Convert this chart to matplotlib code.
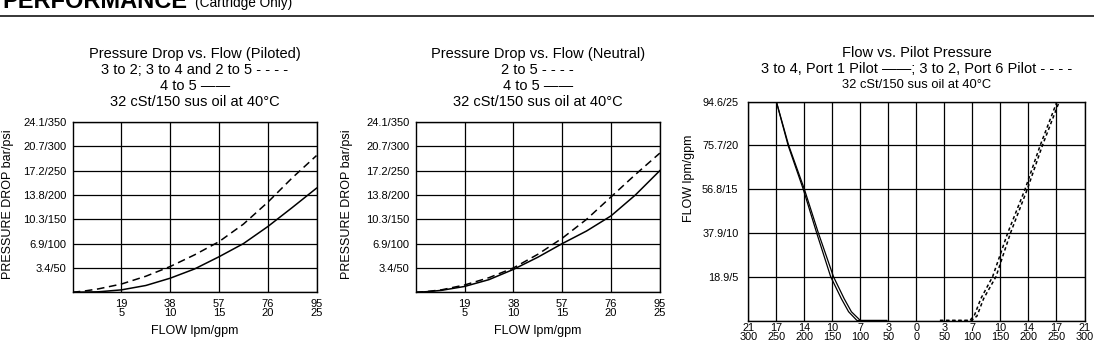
import matplotlib.pyplot as plt
from matplotlib.lines import Line2D

plt.rcParams['font.family'] = ['Liberation Sans', 'DejaVu Sans']

# Pressure drop vs. flow (flow in lpm, pressure drop in psi)
flow_lpm = [0, 5, 10, 19, 28.5, 38, 47.5, 57, 66.5, 76, 85.5, 95]
piloted_3to2_psi = [0, 3, 7, 17, 33, 53, 77, 104, 140, 185, 235, 281]
piloted_4to5_psi = [0, 0.5, 1, 5, 14, 29, 48, 73, 100, 135, 174, 214]
neutral_2to5_psi = [0, 2, 5, 15, 30, 50, 78, 111, 150, 196, 242, 286]
neutral_4to5_psi = [0, 1.5, 4, 12, 26, 47, 72, 100, 126, 157, 200, 250]

dp_ticks = [0, 50, 100, 150, 200, 250, 300, 350]
dp_labels = ['', '3.4/50', '6.9/100', '10.3/150', '13.8/200', '17.2/250', '20.7/300', '24.1/350']
flow_ticks = [19, 38, 57, 76, 95]
flow_labels = ['19\n5', '38\n10', '57\n15', '76\n20', '95\n25']

# Flow vs. pilot pressure (pilot in psi, port 1 drawn to the left, flow in gpm)
port1_flow_gpm = [25, 20, 15, 10, 5, 2.5, 1, 0, 0]
port1_pilot_a = [-250, -229, -202, -178, -153, -134, -121, -106, -53]
port1_pilot_b = [-250, -228, -200, -175, -148, -129, -116, -100, -53]
port6_flow_gpm = [0, 0, 0.5, 2.5, 5, 10, 15, 20, 25]
port6_pilot_a = [42, 95, 103, 115, 136, 163, 194, 221, 251]
port6_pilot_b = [42, 98, 108, 120, 142, 168, 198, 225, 255]

pilot_ticks = [-300, -250, -200, -150, -100, -50, 0, 50, 100, 150, 200, 250, 300]
pilot_labels = ['21\n300', '17\n250', '14\n200', '10\n150', '7\n100', '3\n50', '0\n0',
                '3\n50', '7\n100', '10\n150', '14\n200', '17\n250', '21\n300']
gpm_ticks = [0, 5, 10, 15, 20, 25]
gpm_labels = ['', '18.9/5', '37.9/10', '56.8/15', '75.7/20', '94.6/25']

W, H = 1094, 344
fig = plt.figure(figsize=(W / 100, H / 100), dpi=100)


def axes_px(left, top, right, bottom):
    return fig.add_axes([left / W, 1 - bottom / H, (right - left) / W, (bottom - top) / H])


def text_px(x, y, s, **kw):
    kw.setdefault('ha', 'center')
    kw.setdefault('va', 'center')
    return fig.text(x / W, 1 - y / H, s, **kw)


def style(ax, fs=8):
    for sp in ax.spines.values():
        sp.set_color('black')
        sp.set_linewidth(1.0)
    ax.grid(True, color='black', linewidth=0.9)
    ax.tick_params(length=0, labelsize=fs, pad=4.5)
    for lab in ax.get_xticklabels():
        lab.set_linespacing(0.9)


dash_long = (0, (5, 3))
dash_short = (0, (2.2, 1.8))

# Chart 1: piloted
ax1 = axes_px(72.7, 122, 316.5, 292.3)
ax1.plot(flow_lpm, piloted_3to2_psi, color='black', lw=1.1, linestyle=dash_long)
ax1.plot(flow_lpm, piloted_4to5_psi, color='black', lw=1.1)
ax1.set_xlim(0, 95)
ax1.set_ylim(0, 350)
ax1.set_xticks(flow_ticks, flow_labels)
ax1.set_yticks(dp_ticks, dp_labels)
style(ax1)

# Chart 2: neutral
ax2 = axes_px(415.7, 122, 659.8, 292.3)
ax2.plot(flow_lpm, neutral_2to5_psi, color='black', lw=1.1, linestyle=dash_long)
ax2.plot(flow_lpm, neutral_4to5_psi, color='black', lw=1.1)
ax2.set_xlim(0, 95)
ax2.set_ylim(0, 350)
ax2.set_xticks(flow_ticks, flow_labels)
ax2.set_yticks(dp_ticks, dp_labels)
style(ax2)

# Chart 3: flow vs pilot pressure
ax3 = axes_px(748.3, 101.5, 1084.5, 320.5)
ax3.plot(port1_pilot_a, port1_flow_gpm, color='black', lw=0.9)
ax3.plot(port1_pilot_b, port1_flow_gpm, color='black', lw=0.9)
ax3.plot(port6_pilot_a, port6_flow_gpm, color='black', lw=1.1, linestyle=dash_short)
ax3.plot(port6_pilot_b, port6_flow_gpm, color='black', lw=1.1, linestyle=dash_short)
ax3.set_xlim(-300, 300)
ax3.set_ylim(0, 25)
ax3.set_xticks(pilot_ticks, pilot_labels)
ax3.set_yticks(gpm_ticks, gpm_labels)
style(ax3, fs=7.8)
ax3.tick_params(axis='x', pad=2)
ax3.tick_params(axis='y', pad=7)

# titles
title_fs = 10.5
for cx, lines in [(194.6, ['Pressure Drop vs. Flow (Piloted)', '3 to 2; 3 to 4 and 2 to 5 - - - -', '4 to 5 ——']),
                  (537.7, ['Pressure Drop vs. Flow (Neutral)', '2 to 5 - - - -', '4 to 5 ——'])]:
    for y, s in zip([54, 70, 86], lines):
        text_px(cx, y, s, fontsize=title_fs)
    text_px(cx, 102, '32 cSt/150 sus oil at 40°C', fontsize=title_fs)

text_px(917, 53, 'Flow vs. Pilot Pressure', fontsize=title_fs)
text_px(917, 69, '3 to 4, Port 1 Pilot ——; 3 to 2, Port 6 Pilot - - - -', fontsize=title_fs)
text_px(917, 84.5, '32 cSt/150 sus oil at 40°C', fontsize=9.3)

# axis labels
text_px(8.5, 204, 'PRESSURE DROP bar/psi', fontsize=9, rotation=90)
text_px(347, 204, 'PRESSURE DROP bar/psi', fontsize=9, rotation=90)
text_px(689, 178, 'FLOW lpm/gpm', fontsize=9, rotation=90)
text_px(194.6, 331, 'FLOW lpm/gpm', fontsize=9)
text_px(537.7, 331, 'FLOW lpm/gpm', fontsize=9)

# section heading, cut at the top of the image as in the reference
text_px(2, 7.5, 'PERFORMANCE', fontsize=17, weight='bold', ha='left', va='baseline')
text_px(195, 7.5, '(Cartridge Only)', fontsize=9.8, ha='left', va='baseline')
fig.add_artist(Line2D([0, 1], [1 - 16 / H] * 2, transform=fig.transFigure, color='black', lw=1.1))

fig.savefig('out.png', dpi=100)
